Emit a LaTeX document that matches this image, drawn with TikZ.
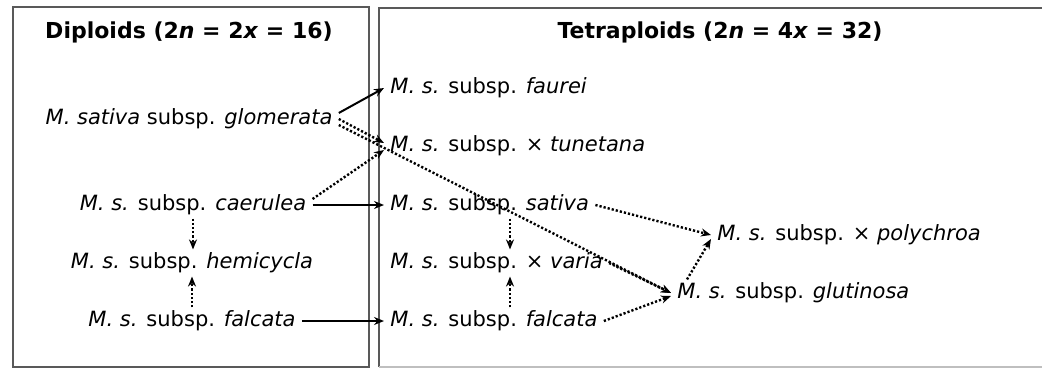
\documentclass[tikz,border=0pt]{standalone}
\usepackage{fontspec}
\setmainfont{DejaVu Sans}
\usetikzlibrary{arrows.meta, positioning}

\begin{document}
\begin{tikzpicture}[
    x=0.5pt, y=-0.5pt,
    taxon/.style={inner xsep=3pt, inner ysep=1.5pt, font=\fontsize{10.5}{12}\selectfont},
    heading/.style={font=\fontsize{11}{13}\selectfont\bfseries},
    frame/.style={draw=black!65, line width=0.6pt},
    origin/.style={-{Stealth[length=5pt, width=4pt]}, line width=1pt},
    hybrid/.style={-{Stealth[length=5pt, width=4pt]}, line width=1.2pt, dash pattern=on 1.1pt off 1pt}
]
\useasboundingbox (0,0) rectangle (1042,369);

% Panels
\draw[frame] (13,7) rectangle (369,367);
\draw[frame] (1042,8) -- (379,8) -- (379,367);
\draw[draw=black!25, line width=0.6pt] (379,367) -- (1042,367);

% Diploids (left)
\node[heading] (dtitle) at (189,32) {Diploids (2\textit{n} = 2\textit{x} = 16)};
\node[taxon] (glom) at (189,119) {\textit{M. sativa} subsp. \textit{glomerata}};
\node[taxon] (caer) at (193,205) {\textit{M. s.} subsp. \textit{caerulea}};
\node[taxon] (hemi) at (192,263) {\textit{M. s.} subsp. \textit{hemicycla}};
\node[taxon] (lfal) at (192,321) {\textit{M. s.} subsp. \textit{falcata}};

% Tetraploids (right)
\node[heading] (ttitle) at (720,32) {Tetraploids (2\textit{n} = 4\textit{x} = 32)};
\node[taxon, anchor=west] (faur) at (384,88) {\textit{M. s.} subsp. \textit{faurei}};
\node[taxon, anchor=west] (tune) at (384,146) {\textit{M. s.} subsp. × \textit{tunetana}};
\node[taxon, anchor=west] (rsat) at (384,205) {\textit{M. s.} subsp. \textit{sativa}};
\node[taxon, anchor=west] (vari) at (384,263) {\textit{M. s.} subsp. × \textit{varia}};
\node[taxon, anchor=west] (rfal) at (384,321) {\textit{M. s.} subsp. \textit{falcata}};
\node[taxon, anchor=west] (poly) at (711,235) {\textit{M. s.} subsp. × \textit{polychroa}};
\node[taxon, anchor=west] (glut) at (671,293) {\textit{M. s.} subsp. \textit{glutinosa}};

% Direct origins
\draw[origin] ([yshift=3pt]glom.east) -- (faur.west);
\draw[origin] (caer.east) -- (rsat.west);
\draw[origin] (lfal.east) -- (rfal.west);

% Hybrid origins
\draw[hybrid] (glom.east) -- ([yshift=1.5pt]tune.west);
\draw[hybrid] ([yshift=-3pt]glom.east) -- (glut.west);
\draw[hybrid] ([yshift=3pt]caer.east) -- ([yshift=-2pt]tune.west);
\draw[hybrid] (caer.south) -- (caer.south |- hemi.north);
\draw[hybrid] (lfal.north) -- (lfal.north |- hemi.south);
\draw[hybrid] ([xshift=63pt]rsat.south west) -- ([xshift=63pt]vari.north west);
\draw[hybrid] ([xshift=63pt]rfal.north west) -- ([xshift=63pt]vari.south west);
\draw[hybrid] (vari.east) -- (glut.west);
\draw[hybrid] (rfal.east) -- ([yshift=-1.5pt]glut.west);
\draw[hybrid] (rsat.east) -- (poly.west);
\draw[hybrid] ([xshift=8pt]glut.north west) -- ([yshift=-2pt]poly.west);
\end{tikzpicture}
\end{document}
